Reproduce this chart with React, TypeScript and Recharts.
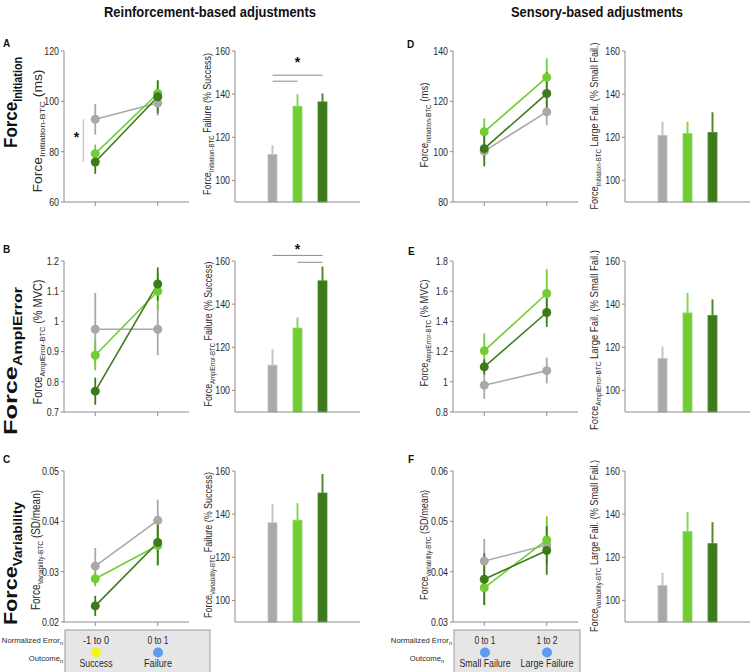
import React from "react";
import {
  LineChart,
  Line,
  BarChart,
  Bar,
  XAxis,
  YAxis,
  ErrorBar,
  ReferenceLine,
  ReferenceDot,
} from "recharts";

const FONT = "'Liberation Sans', Arial, sans-serif";
const AXIS = "#8c8c8c";
const TEXT = "#2a2a2a";

// groups: gray, light green, dark green
const KEYS = ["gray", "light", "dark"];
const COLORS = ["#a9a9a9", "#72cd35", "#3d7a1b"];
const EDGE_COLORS = ["#c4c4c4", "#86d956", "#4f8c2c"];

// two conditions on the x axis of the line panels
const CONDITIONS = [0, 1];

// A: Force initiation, reinforcement
const initReinfMean = [[92.9, 99.3], [79.2, 103.1], [75.9, 101.8]];
const initReinfSem = [[6.1, 5.0], [3.6, 5.0], [4.7, 6.6]];
const initReinfTicks = [60, 80, 100, 120];
const initReinfBar = [112.1, 134.4, 136.4];
const initReinfBarSem = [4.2, 5.6, 3.9];

// B: Force amplitude error, reinforcement
const amplReinfMean = [[0.974, 0.974], [0.888, 1.1], [0.769, 1.124]];
const amplReinfSem = [[0.12, 0.086], [0.05, 0.06], [0.045, 0.055]];
const amplReinfTicks = [0.7, 0.8, 0.9, 1, 1.1, 1.2];
const amplReinfBar = [111.7, 128.9, 150.8];
const amplReinfBarSem = [7.4, 4.9, 6.6];

// C: Force variability, reinforcement
const varReinfMean = [[0.0311, 0.0402], [0.0286, 0.0352], [0.0232, 0.0358]];
const varReinfSem = [[0.0036, 0.0041], [0.0015, 0.004], [0.002, 0.0045]];
const varReinfTicks = [0.02, 0.03, 0.04, 0.05];
const varReinfBar = [136.0, 137.2, 149.8];
const varReinfBarSem = [8.8, 7.9, 8.8];

// D: Force initiation, sensory
const initSensMean = [[100.2, 115.8], [107.9, 129.5], [101.2, 123.1]];
const initSensSem = [[3, 5.3], [5.3, 7.6], [7, 8.5]];
const initSensTicks = [80, 100, 120, 140];
const initSensBar = [120.9, 121.7, 122.2];
const initSensBarSem = [6.3, 5.5, 9.4];

// E: Force amplitude error, sensory
const amplSensMean = [[0.977, 1.074], [1.205, 1.585], [1.099, 1.459]];
const amplSensSem = [[0.09, 0.085], [0.115, 0.16], [0.05, 0.095]];
const amplSensTicks = [0.8, 1, 1.2, 1.4, 1.6, 1.8];
const amplSensBar = [114.8, 135.9, 134.7];
const amplSensBarSem = [5.5, 9.3, 7.5];

// F: Force variability, sensory
const varSensMean = [[0.0421, 0.0453], [0.0368, 0.0463], [0.0385, 0.0442]];
const varSensSem = [[0.0044, 0.004], [0.0035, 0.0047], [0.0051, 0.0048]];
const varSensTicks = [0.03, 0.04, 0.05, 0.06];
const varSensBar = [106.9, 131.9, 126.3];
const varSensBarSem = [5.9, 9.2, 10];

const BAR_DOMAIN = [90, 160];
const BAR_TICKS = [100, 120, 140, 160];

// layout
const ROW_TOPS = [51, 261, 471];
const PLOT_H = 151;
const PLOT_W = 125;
const TOP_PAD = 24;
const X_H = 12;
const LINE_Y_W = 64;
const BAR_Y_W = 30;

const fmtNum = (v: number) => String(Number(v.toFixed(3)));

// narrow-looking tick label (the original uses a condensed font)
function NarrowTick(props: any) {
  const { x, y, payload } = props;
  return (
    <text
      x={x}
      y={y}
      dy="0.35em"
      textAnchor="end"
      fontSize={11}
      fill={TEXT}
      fontFamily={FONT}
      transform={`translate(${x} 0) scale(0.8 1) translate(${-x} 0)`}
    >
      {fmtNum(payload.value)}
    </text>
  );
}

function LinePanel({ axisX, top, means, sems, ticks, children }: any) {
  const data = CONDITIONS.map((c, i) => {
    const row: any = { x: c };
    KEYS.forEach((k, s) => {
      row[k] = means[s][i];
      row[k + "Err"] = sems[s][i];
    });
    return row;
  });
  return (
    <div style={{ position: "absolute", left: axisX - LINE_Y_W, top: top - TOP_PAD }}>
      <LineChart
        width={LINE_Y_W + PLOT_W}
        height={TOP_PAD + PLOT_H + X_H}
        data={data}
        margin={{ top: TOP_PAD, right: 0, bottom: 0, left: 0 }}
      >
        <XAxis
          dataKey="x"
          type="number"
          domain={[-0.5, 1.5]}
          ticks={CONDITIONS}
          tickFormatter={() => ""}
          height={X_H}
          stroke={AXIS}
          tickSize={4}
        />
        <YAxis
          domain={[ticks[0], ticks[ticks.length - 1]]}
          ticks={ticks}
          interval={0}
          width={LINE_Y_W}
          stroke={AXIS}
          tickSize={3}
          tick={<NarrowTick />}
        />
        {children}
        {KEYS.map((k, s) => (
          <Line
            key={k}
            dataKey={k}
            stroke={COLORS[s]}
            strokeWidth={1.6}
            dot={{ r: 4.5, fill: COLORS[s], stroke: "none" }}
            activeDot={false}
            isAnimationActive={false}
          >
            <ErrorBar dataKey={k + "Err"} width={0} stroke={COLORS[s]} strokeWidth={1.8} direction="y" />
          </Line>
        ))}
      </LineChart>
    </div>
  );
}

function BarWithErr(props: any) {
  const { x, y, width, height, payload } = props;
  if (payload == null || payload.v == null || !height) return null;
  const errPx = (height * payload.err) / (payload.v - BAR_DOMAIN[0]);
  const cx = x + width / 2;
  return (
    <g>
      <rect x={x} y={y} width={width} height={height} fill={payload.color} stroke={payload.edge} strokeWidth={0.8} />
      <line x1={cx} x2={cx} y1={y} y2={y - errPx} stroke={payload.edge} strokeWidth={2} />
    </g>
  );
}

function BarPanel({ axisX, top, values, sems, children }: any) {
  const data = [
    { k: "pad0", v: null },
    ...KEYS.map((k, i) => ({ k, v: values[i], err: sems[i], color: COLORS[i], edge: EDGE_COLORS[i] })),
    { k: "pad1", v: null },
  ];
  return (
    <div style={{ position: "absolute", left: axisX - BAR_Y_W, top: top - TOP_PAD }}>
      <BarChart
        width={BAR_Y_W + PLOT_W}
        height={TOP_PAD + PLOT_H + X_H}
        data={data}
        margin={{ top: TOP_PAD, right: 0, bottom: 0, left: 0 }}
      >
        <XAxis dataKey="k" tickLine={false} tickFormatter={() => ""} height={X_H} stroke={AXIS} />
        <YAxis
          domain={BAR_DOMAIN}
          ticks={BAR_TICKS}
          interval={0}
          width={BAR_Y_W}
          stroke={AXIS}
          tickSize={3}
          tick={<NarrowTick />}
        />
        <Bar dataKey="v" barSize={9} shape={<BarWithErr />} isAnimationActive={false} />
        {children}
      </BarChart>
    </div>
  );
}

function sigLine(from: string, to: string, y: number) {
  return (
    <ReferenceLine
      key={from + to + y}
      segment={[{ x: from, y }, { x: to, y }]}
      stroke="#8a8a8a"
      strokeWidth={1}
      ifOverflow="visible"
    />
  );
}

function star(x: any, y: number) {
  return (
    <ReferenceDot
      key={"star" + x + y}
      x={x}
      y={y}
      r={0.1}
      fill="none"
      stroke="none"
      ifOverflow="visible"
      label={{ value: "*", position: "center", fontSize: 14, fontWeight: "bold", fill: "#111", fontFamily: FONT }}
    />
  );
}

function RotLabel({ x, y, main, sub, rest, size, subSize, bold, len, anchor = "middle" }: any) {
  return (
    <text
      x={x}
      y={y}
      transform={`rotate(-90 ${x} ${y})`}
      textAnchor={anchor}
      fontSize={size}
      fontWeight={bold ? "bold" : "normal"}
      fill={bold ? "#111" : TEXT}
      textLength={len}
      lengthAdjust="spacingAndGlyphs"
    >
      <tspan>{main}</tspan>
      <tspan fontSize={subSize} dy={size * 0.25}>
        {sub}
      </tspan>
      {rest ? <tspan dy={-size * 0.25}>{rest}</tspan> : null}
    </text>
  );
}

function FitText({ x, y, len, size = 11, anchor = "middle", children }: any) {
  return (
    <text x={x} y={y} textAnchor={anchor} fontSize={size} fill={TEXT} textLength={len} lengthAdjust="spacingAndGlyphs">
      {children}
    </text>
  );
}

// row label of the condition box, with a subscript "n"
function SubLabel({ right, y, children }: any) {
  return (
    <text x={right} y={y} textAnchor="end" fontSize={7.7} fill={TEXT}>
      {children}
      <tspan fontSize={5.5} dy={2}>
        n
      </tspan>
    </text>
  );
}

function ConditionBox({ x, w, centers, errs, errLens, outcomes, outLens, dots, labelRight }: any) {
  return (
    <g>
      <rect x={x} y={630} width={w} height={44} fill="#e6e6e6" stroke="#9a9a9a" />
      {centers.map((c: number, i: number) => (
        <g key={i}>
          <FitText x={c} y={644} len={errLens[i]}>
            {errs[i]}
          </FitText>
          <circle cx={c} cy={652.5} r={5} fill={dots[i]} />
          <FitText x={c} y={667} len={outLens[i]}>
            {outcomes[i]}
          </FitText>
        </g>
      ))}
      <SubLabel right={labelRight[0]} y={643}>
        Normalized Error
      </SubLabel>
      <SubLabel right={labelRight[1]} y={661}>
        Outcome
      </SubLabel>
    </g>
  );
}

export default function App() {
  return (
    <div
      style={{
        position: "absolute",
        left: 0,
        top: 0,
        width: 750,
        height: 672,
        background: "#fff",
        fontFamily: FONT,
        overflow: "hidden",
      }}
    >
      <LinePanel axisX={64} top={ROW_TOPS[0]} means={initReinfMean} sems={initReinfSem} ticks={initReinfTicks}>
        <ReferenceLine
          segment={[{ x: -0.19, y: initReinfMean[0][0] }, { x: -0.19, y: initReinfMean[2][0] }]}
          stroke="#c8c8c8"
          strokeWidth={1.5}
        />
        {star(-0.3, 86)}
      </LinePanel>
      <LinePanel axisX={64} top={ROW_TOPS[1]} means={amplReinfMean} sems={amplReinfSem} ticks={amplReinfTicks} />
      <LinePanel axisX={64} top={ROW_TOPS[2]} means={varReinfMean} sems={varReinfSem} ticks={varReinfTicks} />
      <LinePanel axisX={453} top={ROW_TOPS[0]} means={initSensMean} sems={initSensSem} ticks={initSensTicks} />
      <LinePanel axisX={453} top={ROW_TOPS[1]} means={amplSensMean} sems={amplSensSem} ticks={amplSensTicks} />
      <LinePanel axisX={453} top={ROW_TOPS[2]} means={varSensMean} sems={varSensSem} ticks={varSensTicks} />

      <BarPanel axisX={235} top={ROW_TOPS[0]} values={initReinfBar} sems={initReinfBarSem}>
        {sigLine("gray", "dark", 148.8)}
        {sigLine("gray", "light", 146)}
        {star("light", 155)}
      </BarPanel>
      <BarPanel axisX={235} top={ROW_TOPS[1]} values={amplReinfBar} sems={amplReinfBarSem}>
        {sigLine("gray", "dark", 162.6)}
        {sigLine("light", "dark", 159.4)}
        {star("light", 165.5)}
      </BarPanel>
      <BarPanel axisX={235} top={ROW_TOPS[2]} values={varReinfBar} sems={varReinfBarSem} />
      <BarPanel axisX={625} top={ROW_TOPS[0]} values={initSensBar} sems={initSensBarSem} />
      <BarPanel axisX={625} top={ROW_TOPS[1]} values={amplSensBar} sems={amplSensBarSem} />
      <BarPanel axisX={625} top={ROW_TOPS[2]} values={varSensBar} sems={varSensBarSem} />

      <svg
        width={750}
        height={672}
        style={{ position: "absolute", left: 0, top: 0, pointerEvents: "none", fontFamily: FONT }}
      >
        <text x={104} y={17} fontSize={15} fontWeight="bold" fill="#111" textLength={212} lengthAdjust="spacingAndGlyphs">
          Reinforcement-based adjustments
        </text>
        <text x={511} y={17} fontSize={15} fontWeight="bold" fill="#111" textLength={172} lengthAdjust="spacingAndGlyphs">
          Sensory-based adjustments
        </text>

        {[
          ["A", 3, 47],
          ["B", 3, 253],
          ["C", 3, 463],
          ["D", 407, 48],
          ["E", 408, 255],
          ["F", 408, 463],
        ].map(([l, x, y]) => (
          <text key={l as string} x={x as number} y={y as number} fontSize={10} fontWeight="bold" fill="#111">
            {l}
          </text>
        ))}

        <RotLabel x={17} y={148} anchor="start" main="Force" sub="Initiation" size={19} subSize={12} bold len={91} />
        <RotLabel x={17} y={435} anchor="start" main="Force" sub="AmplError" size={19} subSize={12} bold len={148} />
        <RotLabel x={17} y={625} anchor="start" main="Force" sub="Variability" size={19} subSize={12} bold len={123} />

        <RotLabel x={42} y={131} main="Force" sub="Initiation-BTC" rest=" (ms)" size={12} subSize={8} len={123} />
        <RotLabel x={42} y={342} main="Force" sub="AmplError-BTC" rest=" (% MVC)" size={12} subSize={8} len={125} />
        <RotLabel x={40} y={550} main="Force" sub="Variability-BTC" rest=" (SD/mean)" size={12} subSize={8} len={120} />

        <RotLabel x={428} y={125} main="Force" sub="Initiation-BTC" rest=" (ms)" size={10.5} subSize={7} len={85} />
        <RotLabel x={428} y={333} main="Force" sub="AmplError-BTC" rest=" (% MVC)" size={10.5} subSize={7} len={107} />
        <RotLabel x={428} y={545} main="Force" sub="Variability-BTC" rest=" (SD/mean)" size={10.5} subSize={7} len={110} />

        <RotLabel x={211} y={124} main="Force" sub="Initiation-BTC" rest=" Failure (% Success)" size={11} subSize={7.5} len={142} />
        <RotLabel x={212} y={334} main="Force" sub="AmplError-BTC" rest=" Failure (% Success)" size={11} subSize={7.5} len={145} />
        <RotLabel x={212} y={545} main="Force" sub="Variability-BTC" rest=" Failure (% Success)" size={11} subSize={7.5} len={146} />

        <RotLabel x={598} y={126} main="Force" sub="Initiation-BTC" rest=" Large Fail. (% Small Fail.)" size={11} subSize={7.5} len={167} />
        <RotLabel x={598} y={340} main="Force" sub="AmplError-BTC" rest=" Large Fail. (% Small Fail.)" size={11} subSize={7.5} len={180} />
        <RotLabel x={598} y={546} main="Force" sub="Variability-BTC" rest=" Large Fail. (% Small Fail.)" size={11} subSize={7.5} len={172} />

        <ConditionBox
          x={65}
          w={145}
          centers={[96, 158]}
          errs={["-1 to 0", "0 to 1"]}
          errLens={[26, 21]}
          outcomes={["Success", "Failure"]}
          outLens={[33, 28]}
          dots={["#f4f41f", "#5b9cf0"]}
          labelRight={[63, 63]}
        />
        <ConditionBox
          x={454}
          w={126}
          centers={[485, 547]}
          errs={["0 to 1", "1 to 2"]}
          errLens={[21, 21]}
          outcomes={["Small Failure", "Large Failure"]}
          outLens={[51, 53]}
          dots={["#5b9cf0", "#5b9cf0"]}
          labelRight={[452, 444]}
        />
      </svg>
    </div>
  );
}
